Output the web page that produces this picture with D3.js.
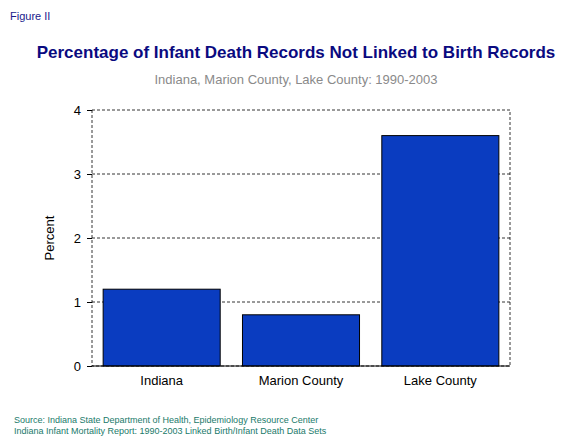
<!DOCTYPE html><html><head><script src="https://cdn.jsdelivr.net/npm/d3@7"></script>
<style>body{margin:0;background:#fff}</style></head><body><script>
const categories=["Indiana","Marion County","Lake County"];
const values=[1.2,0.8,3.6];
const yTicks=[0,1,2,3,4];
const W=574,H=448,L=92,R=510,T=110,B=366;
const svg=d3.select("body").append("svg").attr("width",W).attr("height",H).style("font-family","Arial, Liberation Sans, sans-serif");
const x=d3.scaleBand().domain(categories).range([L,R]).paddingInner(0.16).paddingOuter(0.08);
const y=d3.scaleLinear().domain([0,4]).range([B,T]);
svg.append("text").attr("x",10).attr("y",20).attr("font-size",11).attr("fill","#1a1a8c").text("Figure II");
svg.append("text").attr("x",296).attr("y",58).attr("text-anchor","middle").attr("font-size",17).attr("font-weight","bold").attr("fill","#0a0a80").text("Percentage of Infant Death Records Not Linked to Birth Records");
svg.append("text").attr("x",296).attr("y",84).attr("text-anchor","middle").attr("font-size",13).attr("fill","#8a8a8a").text("Indiana, Marion County, Lake County: 1990-2003");
[1,2,3].forEach(v=>svg.append("line").attr("x1",L).attr("x2",R).attr("y1",y(v)).attr("y2",y(v)).attr("stroke","#000").attr("stroke-dasharray","3,2").attr("stroke-width",0.8));
svg.append("rect").attr("x",L).attr("y",T).attr("width",R-L).attr("height",B-T).attr("fill","none").attr("stroke","#000").attr("stroke-dasharray","3,2").attr("stroke-width",0.8);
svg.selectAll(".bar").data(values).enter().append("rect").attr("x",(d,i)=>x(categories[i])).attr("width",x.bandwidth()).attr("y",d=>y(d)).attr("height",d=>B-y(d)).attr("fill","#0a3cc0").attr("stroke","#000").attr("stroke-width",1);
svg.append("line").attr("x1",L).attr("x2",R).attr("y1",B).attr("y2",B).attr("stroke","#000");
const ya=svg.append("g").attr("transform",`translate(${L},0)`).call(d3.axisLeft(y).tickValues(yTicks).tickFormat(d3.format("d")).tickSize(5).tickPadding(6));
ya.select(".domain").remove();ya.selectAll("text").attr("font-size",13).attr("font-family","Arial, Liberation Sans, sans-serif");
const xa=svg.append("g").attr("transform",`translate(0,${B})`).call(d3.axisBottom(x).tickSize(0).tickPadding(10));
xa.select(".domain").remove();xa.selectAll("text").attr("font-size",13).attr("font-family","Arial, Liberation Sans, sans-serif");
svg.append("text").attr("transform","translate(54,238) rotate(-90)").attr("text-anchor","middle").attr("font-size",13).text("Percent");
svg.append("text").attr("x",14).attr("y",423).attr("font-size",9).attr("fill","#1a7a6a").text("Source: Indiana State Department of Health, Epidemiology Resource Center");
svg.append("text").attr("x",14).attr("y",434).attr("font-size",9).attr("fill","#1a7a6a").text("Indiana Infant Mortality Report: 1990-2003 Linked Birth/Infant Death Data Sets");
</script></body></html>
